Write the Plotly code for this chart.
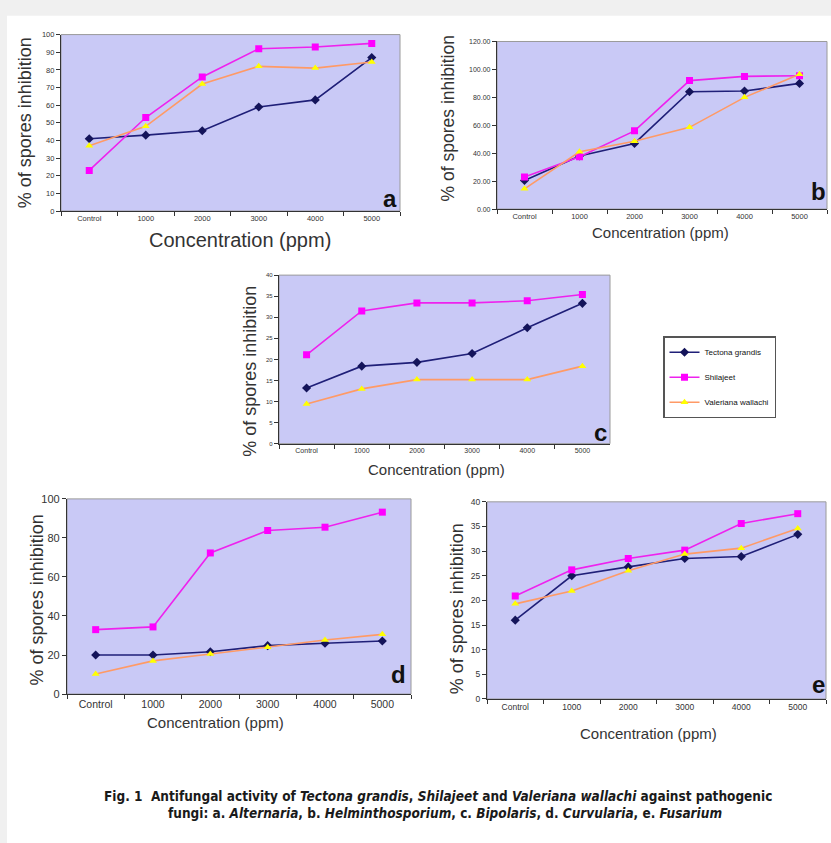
import plotly.graph_objects as go

W, H = 831, 843

categories = ["Control", "1000", "2000", "3000", "4000", "5000"]
series_names = ["Tectona grandis", "Shilajeet", "Valeriana wallachi"]

# a. Alternaria
a_tectona = [41, 43, 45.5, 59, 63, 87]
a_shilajeet = [23, 53, 76, 92, 93, 95]
a_valeriana = [37, 48, 72, 82, 81, 84.5]
# b. Helminthosporium
b_tectona = [20.5, 38, 47, 84, 84.5, 90]
b_shilajeet = [23, 37.5, 56, 92, 95, 95.5]
b_valeriana = [14.5, 41, 48.5, 58.5, 80, 96.5]
# c. Bipolaris
c_tectona = [13.2, 18.4, 19.3, 21.4, 27.5, 33.3]
c_shilajeet = [21.1, 31.5, 33.4, 33.4, 33.9, 35.4]
c_valeriana = [9.4, 13, 15.2, 15.2, 15.2, 18.4]
# d. Curvularia
d_tectona = [20, 20, 21.7, 24.8, 26, 27.2]
d_shilajeet = [33, 34.4, 72.3, 83.8, 85.5, 93.2]
d_valeriana = [10.3, 17, 20.5, 24, 27.7, 30.6]
# e. Fusarium
e_tectona = [16, 25, 26.8, 28.5, 28.9, 33.4]
e_shilajeet = [20.9, 26.2, 28.5, 30.2, 35.6, 37.6]
e_valeriana = [19.3, 21.9, 26, 29.4, 30.6, 34.6]

panel_letters = ["a", "b", "c", "d", "e"]
panel_data = [
    (a_tectona, a_shilajeet, a_valeriana),
    (b_tectona, b_shilajeet, b_valeriana),
    (c_tectona, c_shilajeet, c_valeriana),
    (d_tectona, d_shilajeet, d_valeriana),
    (e_tectona, e_shilajeet, e_valeriana),
]

FONT = "Liberation Sans, Arial, sans-serif"
PLOT_BG = "#c9c9f6"

# panel geometry in pixels: left, right, top, bottom
boxes = [
    (61, 400, 29, 208),
    (497, 827, 36, 206),
    (279, 610, 273, 444),
    (67, 411, 500, 698),
    (487, 826, 503, 703),
]
yconf = [
    dict(range=[0, 100], dtick=10, tickformat="d", size=7.5),
    dict(range=[0, 120], dtick=20, tickformat=".2f", size=7),
    dict(range=[0, 40], dtick=5, tickformat="d", size=6),
    dict(range=[0, 100], dtick=20, tickformat="d", size=11),
    dict(range=[0, 40], dtick=5, tickformat="d", size=8.5),
]
xfont = [7.5, 7.5, 7, 10.5, 8.5]
# axis-title placement (pixels) and sizes
ytitle = [(25, 119, 18), (448, 114, 17.5), (250, 371, 18), (37, 603, 18), (457, 612, 18)]
xtitle = [(240, 237, 20), (660, 230, 15), (437, 470, 15), (215, 727, 15), (648, 738, 15)]
letters_pos = [(390, 195), (818, 188), (600, 433), (398, 678), (818, 688)]

styles = [
    dict(line=dict(color="#1f1f78", width=1.6),
         marker=dict(symbol="diamond", size=7, color="#14145a")),
    dict(line=dict(color="#ee22ee", width=1.6),
         marker=dict(symbol="square", size=7, color="#ff00ff")),
    dict(line=dict(color="#ff9a66", width=1.6),
         marker=dict(symbol="triangle-up", size=7, color="#ffff00")),
]

def px_x(v):
    return v / W

def px_y(v):
    return 1 - v / H

fig = go.Figure()
annotations = []
shapes = []

# white page area on a light grey frame
shapes.append(dict(type="rect", xref="paper", yref="paper",
                   x0=px_x(7), x1=1.02, y0=-0.02, y1=px_y(10),
                   fillcolor="white", line=dict(width=0), layer="below"))

for i, (letter, vals) in enumerate(zip(panel_letters, panel_data)):
    n = "" if i == 0 else str(i + 1)
    xa, ya = "x" + n, "y" + n
    l, r, t, b = boxes[i]
    yc = yconf[i]
    for j, (name, v) in enumerate(zip(series_names, vals)):
        fig.add_trace(go.Scatter(
            x=categories, y=v, mode="lines+markers", name=name,
            xaxis=xa, yaxis=ya, legendgroup=name, showlegend=(i == 0),
            line=styles[j]["line"], marker=styles[j]["marker"],
        ))
    fig.layout["xaxis" + n] = dict(
        domain=[px_x(l), px_x(r)], anchor=ya, type="category",
        range=[-0.5, 5.5], tickson="boundaries", ticks="outside", ticklen=4,
        tickcolor="#333", showline=True, linecolor="#333", linewidth=1.2,
        showgrid=False, zeroline=False,
        tickfont=dict(family=FONT, size=xfont[i], color="#333"),
    )
    fig.layout["yaxis" + n] = dict(
        domain=[px_y(b), px_y(t)], anchor=xa, range=yc["range"],
        dtick=yc["dtick"], tickformat=yc["tickformat"], ticks="outside",
        ticklen=4, tickcolor="#333", showline=True, linecolor="#333",
        linewidth=1.2, showgrid=False, zeroline=False,
        tickfont=dict(family=FONT, size=yc["size"], color="#333"),
    )
    # grey frame on top/right of plot area
    shapes.append(dict(type="rect", xref=xa + " domain", yref=ya + " domain",
                       x0=0, x1=1, y0=0, y1=1,
                       line=dict(color="#9a9a9a", width=1), layer="below",
                       fillcolor=PLOT_BG))
    tx, ty, ts = ytitle[i]
    annotations.append(dict(text="% of spores inhibition", xref="paper", yref="paper",
                            x=px_x(tx), y=px_y(ty), showarrow=False, textangle=-90,
                            font=dict(family=FONT, size=ts, color="#333"),
                            xanchor="center", yanchor="middle"))
    tx, ty, ts = xtitle[i]
    annotations.append(dict(text="Concentration (ppm)", xref="paper", yref="paper",
                            x=px_x(tx), y=px_y(ty), showarrow=False,
                            font=dict(family=FONT, size=ts, color="#333"),
                            xanchor="center", yanchor="middle"))
    lx, ly = letters_pos[i]
    annotations.append(dict(text="<b>%s</b>" % letter, xref="paper", yref="paper",
                            x=px_x(lx), y=px_y(ly), showarrow=False,
                            font=dict(family=FONT, size=24, color="#111"),
                            xanchor="center", yanchor="middle"))

CAP_FONT = "DejaVu Sans Condensed, Liberation Sans, sans-serif"
annotations.append(dict(
    text="<b>Fig. 1  Antifungal activity of <i>Tectona grandis</i>, <i>Shilajeet</i> and "
         "<i>Valeriana wallachi</i> against pathogenic</b>",
    xref="paper", yref="paper", x=px_x(438), y=px_y(801), showarrow=False,
    font=dict(family=CAP_FONT, size=13.5, color="#1a1a1a"), xanchor="center", yanchor="middle"))
annotations.append(dict(
    text="<b>fungi: a. <i>Alternaria</i>, b. <i>Helminthosporium</i>, c. <i>Bipolaris</i>, "
         "d. <i>Curvularia</i>, e. <i>Fusarium</i></b>",
    xref="paper", yref="paper", x=px_x(445), y=px_y(819), showarrow=False,
    font=dict(family=CAP_FONT, size=13.5, color="#1a1a1a"), xanchor="center", yanchor="middle"))

fig.update_layout(
    width=W, height=H, margin=dict(l=0, r=0, t=0, b=0),
    paper_bgcolor="#f0f0f0", plot_bgcolor="rgba(0,0,0,0)",
    annotations=annotations, shapes=shapes,
    legend=dict(x=px_x(663), y=px_y(335), xanchor="left", yanchor="top",
                bgcolor="white", bordercolor="#555", borderwidth=1.5,
                font=dict(family=FONT, size=8, color="#111"),
                itemwidth=30, tracegroupgap=6),
)

fig.write_html(
    "out.html",
    config={"displayModeBar": False},
    post_script="document.body.style.margin='0';document.body.style.overflow='hidden';",
)
